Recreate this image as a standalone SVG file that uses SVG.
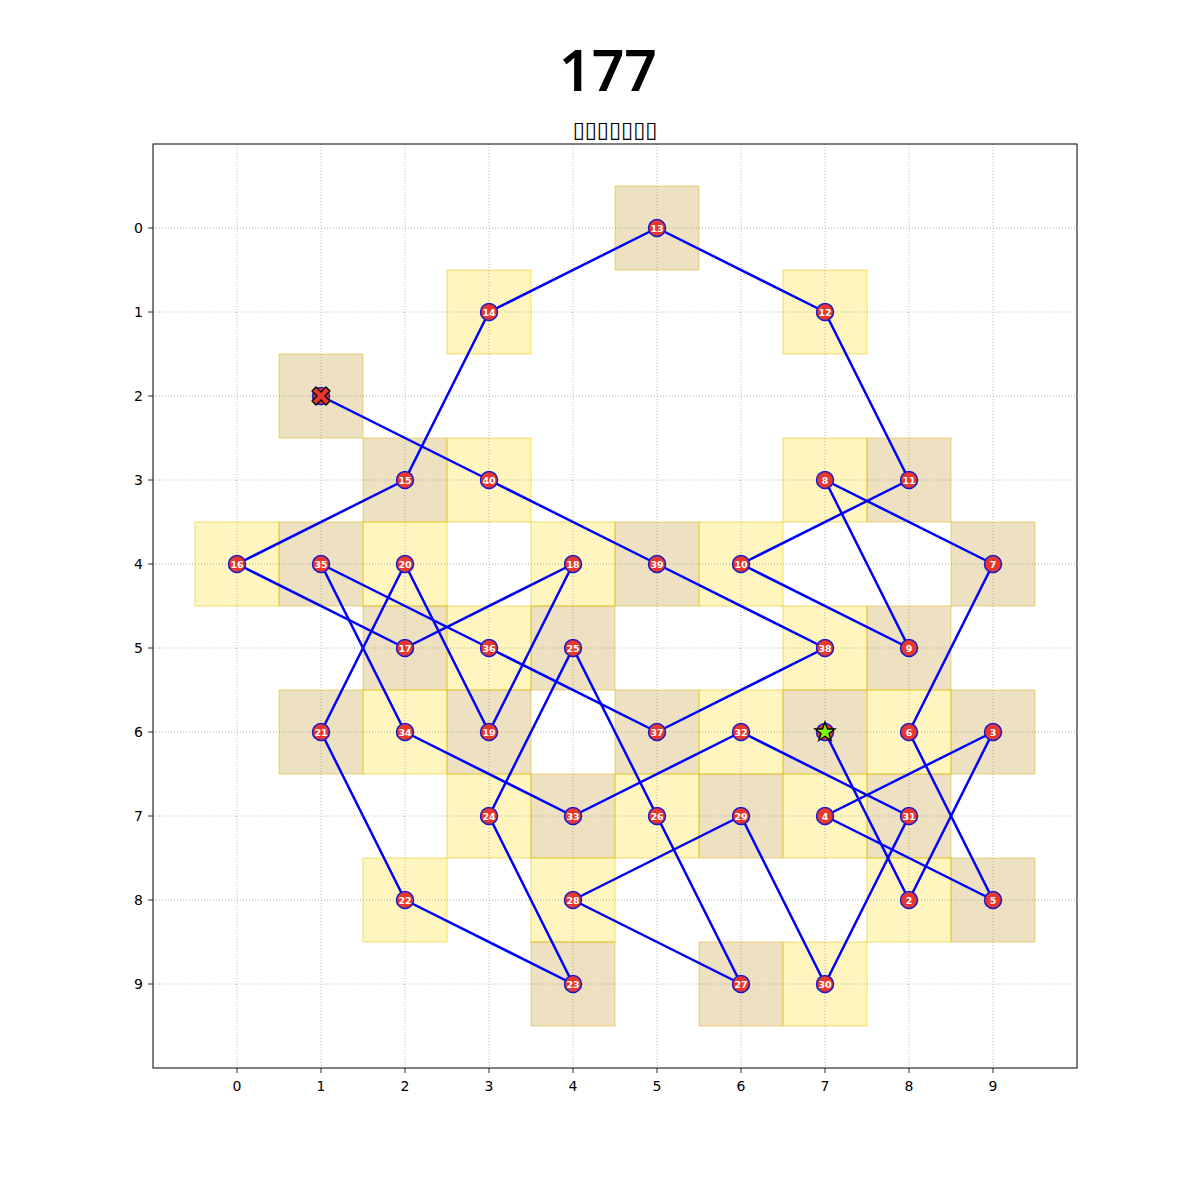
<svg xmlns="http://www.w3.org/2000/svg" width="1200" height="1200" viewBox="0 0 1200 1200">
<style>
.bg{fill:#ffffff}
.cy{fill:#ffd700;fill-opacity:0.25;stroke:#e6c200;stroke-opacity:0.35;stroke-width:1.5}
.ct{fill:#b8860b;fill-opacity:0.25;stroke:#d8b000;stroke-opacity:0.3;stroke-width:1.5}
.grid line{stroke:#a0a0a0;stroke-width:0.8;stroke-dasharray:1,2}
.frame{fill:none;stroke:#000;stroke-width:1}
.tick{stroke:#000;stroke-width:0.8}
.tl{font-family:"DejaVu Sans",sans-serif;font-size:14px;fill:#000}
.edges line{stroke:#0000ff;stroke-width:2.5;stroke-linecap:round}
.nd circle{fill:#e8372c;stroke:#1a1acc;stroke-width:1.5}
.nd text{font-family:"DejaVu Sans",sans-serif;font-weight:bold;font-size:9.5px;fill:#fff;text-anchor:middle}
</style>
<rect class="bg" x="0" y="0" width="1200" height="1200"/>
<text x="608" y="91" font-family="Noto Sans, sans-serif" font-weight="600" font-size="57" text-anchor="middle" fill="#000">177</text>
<text x="615" y="137" font-family="DejaVu Sans, sans-serif" font-size="22" text-anchor="middle" fill="#000">▯▯▯▯▯▯▯</text>
<g id="cells">
<rect class="ct" x="615" y="186" width="84" height="84"/>
<rect class="cy" x="447" y="270" width="84" height="84"/>
<rect class="cy" x="783" y="270" width="84" height="84"/>
<rect class="ct" x="279" y="354" width="84" height="84"/>
<rect class="ct" x="363" y="438" width="84" height="84"/>
<rect class="cy" x="447" y="438" width="84" height="84"/>
<rect class="cy" x="783" y="438" width="84" height="84"/>
<rect class="ct" x="867" y="438" width="84" height="84"/>
<rect class="cy" x="195" y="522" width="84" height="84"/>
<rect class="ct" x="279" y="522" width="84" height="84"/>
<rect class="cy" x="363" y="522" width="84" height="84"/>
<rect class="cy" x="531" y="522" width="84" height="84"/>
<rect class="ct" x="615" y="522" width="84" height="84"/>
<rect class="cy" x="699" y="522" width="84" height="84"/>
<rect class="ct" x="951" y="522" width="84" height="84"/>
<rect class="ct" x="363" y="606" width="84" height="84"/>
<rect class="cy" x="447" y="606" width="84" height="84"/>
<rect class="ct" x="531" y="606" width="84" height="84"/>
<rect class="cy" x="783" y="606" width="84" height="84"/>
<rect class="ct" x="867" y="606" width="84" height="84"/>
<rect class="ct" x="279" y="690" width="84" height="84"/>
<rect class="cy" x="363" y="690" width="84" height="84"/>
<rect class="ct" x="447" y="690" width="84" height="84"/>
<rect class="ct" x="615" y="690" width="84" height="84"/>
<rect class="cy" x="699" y="690" width="84" height="84"/>
<rect class="ct" x="783" y="690" width="84" height="84"/>
<rect class="cy" x="867" y="690" width="84" height="84"/>
<rect class="ct" x="951" y="690" width="84" height="84"/>
<rect class="cy" x="447" y="774" width="84" height="84"/>
<rect class="ct" x="531" y="774" width="84" height="84"/>
<rect class="cy" x="615" y="774" width="84" height="84"/>
<rect class="ct" x="699" y="774" width="84" height="84"/>
<rect class="cy" x="783" y="774" width="84" height="84"/>
<rect class="ct" x="867" y="774" width="84" height="84"/>
<rect class="cy" x="363" y="858" width="84" height="84"/>
<rect class="cy" x="531" y="858" width="84" height="84"/>
<rect class="cy" x="867" y="858" width="84" height="84"/>
<rect class="ct" x="951" y="858" width="84" height="84"/>
<rect class="ct" x="531" y="942" width="84" height="84"/>
<rect class="ct" x="699" y="942" width="84" height="84"/>
<rect class="cy" x="783" y="942" width="84" height="84"/>
</g>
<g class="grid">
<line x1="237" y1="144" x2="237" y2="1068"/><line x1="321" y1="144" x2="321" y2="1068"/><line x1="405" y1="144" x2="405" y2="1068"/><line x1="489" y1="144" x2="489" y2="1068"/><line x1="573" y1="144" x2="573" y2="1068"/><line x1="657" y1="144" x2="657" y2="1068"/><line x1="741" y1="144" x2="741" y2="1068"/><line x1="825" y1="144" x2="825" y2="1068"/><line x1="909" y1="144" x2="909" y2="1068"/><line x1="993" y1="144" x2="993" y2="1068"/>
<line x1="153" y1="228" x2="1077" y2="228"/><line x1="153" y1="312" x2="1077" y2="312"/><line x1="153" y1="396" x2="1077" y2="396"/><line x1="153" y1="480" x2="1077" y2="480"/><line x1="153" y1="564" x2="1077" y2="564"/><line x1="153" y1="648" x2="1077" y2="648"/><line x1="153" y1="732" x2="1077" y2="732"/><line x1="153" y1="816" x2="1077" y2="816"/><line x1="153" y1="900" x2="1077" y2="900"/><line x1="153" y1="984" x2="1077" y2="984"/>
</g>
<rect class="frame" x="153" y="144" width="924" height="924"/>
<g id="ticks">
<g class="tick">
<line x1="237" y1="1068" x2="237" y2="1073"/><line x1="321" y1="1068" x2="321" y2="1073"/><line x1="405" y1="1068" x2="405" y2="1073"/><line x1="489" y1="1068" x2="489" y2="1073"/><line x1="573" y1="1068" x2="573" y2="1073"/><line x1="657" y1="1068" x2="657" y2="1073"/><line x1="741" y1="1068" x2="741" y2="1073"/><line x1="825" y1="1068" x2="825" y2="1073"/><line x1="909" y1="1068" x2="909" y2="1073"/><line x1="993" y1="1068" x2="993" y2="1073"/>
<line x1="148" y1="228" x2="153" y2="228"/><line x1="148" y1="312" x2="153" y2="312"/><line x1="148" y1="396" x2="153" y2="396"/><line x1="148" y1="480" x2="153" y2="480"/><line x1="148" y1="564" x2="153" y2="564"/><line x1="148" y1="648" x2="153" y2="648"/><line x1="148" y1="732" x2="153" y2="732"/><line x1="148" y1="816" x2="153" y2="816"/><line x1="148" y1="900" x2="153" y2="900"/><line x1="148" y1="984" x2="153" y2="984"/>
</g>
<g class="tl" text-anchor="middle">
<text x="237" y="1091">0</text><text x="321" y="1091">1</text><text x="405" y="1091">2</text><text x="489" y="1091">3</text><text x="573" y="1091">4</text><text x="657" y="1091">5</text><text x="741" y="1091">6</text><text x="825" y="1091">7</text><text x="909" y="1091">8</text><text x="993" y="1091">9</text>
</g>
<g class="tl" text-anchor="end">
<text x="143" y="233">0</text><text x="143" y="317">1</text><text x="143" y="401">2</text><text x="143" y="485">3</text><text x="143" y="569">4</text><text x="143" y="653">5</text><text x="143" y="737">6</text><text x="143" y="821">7</text><text x="143" y="905">8</text><text x="143" y="989">9</text>
</g>
</g>
<g id="connectors" class="edges">
<line x1="825" y1="732" x2="909" y2="900"/>
<line x1="909" y1="900" x2="993" y2="732"/>
<line x1="993" y1="732" x2="825" y2="816"/>
<line x1="825" y1="816" x2="993" y2="900"/>
<line x1="993" y1="900" x2="909" y2="732"/>
<line x1="909" y1="732" x2="993" y2="564"/>
<line x1="993" y1="564" x2="825" y2="480"/>
<line x1="825" y1="480" x2="909" y2="648"/>
<line x1="909" y1="648" x2="741" y2="564"/>
<line x1="741" y1="564" x2="909" y2="480"/>
<line x1="909" y1="480" x2="825" y2="312"/>
<line x1="825" y1="312" x2="657" y2="228"/>
<line x1="657" y1="228" x2="489" y2="312"/>
<line x1="489" y1="312" x2="405" y2="480"/>
<line x1="405" y1="480" x2="237" y2="564"/>
<line x1="237" y1="564" x2="405" y2="648"/>
<line x1="405" y1="648" x2="573" y2="564"/>
<line x1="573" y1="564" x2="489" y2="732"/>
<line x1="489" y1="732" x2="405" y2="564"/>
<line x1="405" y1="564" x2="321" y2="732"/>
<line x1="321" y1="732" x2="405" y2="900"/>
<line x1="405" y1="900" x2="573" y2="984"/>
<line x1="573" y1="984" x2="489" y2="816"/>
<line x1="489" y1="816" x2="573" y2="648"/>
<line x1="573" y1="648" x2="657" y2="816"/>
<line x1="657" y1="816" x2="741" y2="984"/>
<line x1="741" y1="984" x2="573" y2="900"/>
<line x1="573" y1="900" x2="741" y2="816"/>
<line x1="741" y1="816" x2="825" y2="984"/>
<line x1="825" y1="984" x2="909" y2="816"/>
<line x1="909" y1="816" x2="741" y2="732"/>
<line x1="741" y1="732" x2="573" y2="816"/>
<line x1="573" y1="816" x2="405" y2="732"/>
<line x1="405" y1="732" x2="321" y2="564"/>
<line x1="321" y1="564" x2="489" y2="648"/>
<line x1="489" y1="648" x2="657" y2="732"/>
<line x1="657" y1="732" x2="825" y2="648"/>
<line x1="825" y1="648" x2="657" y2="564"/>
<line x1="657" y1="564" x2="489" y2="480"/>
<line x1="489" y1="480" x2="321" y2="396"/>
</g>
<g id="nodes" class="nd">
<g id="n1"><circle cx="825" cy="732" r="8.5"/></g>
<g id="n2"><circle cx="909" cy="900" r="8.5"/><text x="909" y="903.5">2</text></g>
<g id="n3"><circle cx="993" cy="732" r="8.5"/><text x="993" y="735.5">3</text></g>
<g id="n4"><circle cx="825" cy="816" r="8.5"/><text x="825" y="819.5">4</text></g>
<g id="n5"><circle cx="993" cy="900" r="8.5"/><text x="993" y="903.5">5</text></g>
<g id="n6"><circle cx="909" cy="732" r="8.5"/><text x="909" y="735.5">6</text></g>
<g id="n7"><circle cx="993" cy="564" r="8.5"/><text x="993" y="567.5">7</text></g>
<g id="n8"><circle cx="825" cy="480" r="8.5"/><text x="825" y="483.5">8</text></g>
<g id="n9"><circle cx="909" cy="648" r="8.5"/><text x="909" y="651.5">9</text></g>
<g id="n10"><circle cx="741" cy="564" r="8.5"/><text x="741" y="567.5">10</text></g>
<g id="n11"><circle cx="909" cy="480" r="8.5"/><text x="909" y="483.5">11</text></g>
<g id="n12"><circle cx="825" cy="312" r="8.5"/><text x="825" y="315.5">12</text></g>
<g id="n13"><circle cx="657" cy="228" r="8.5"/><text x="657" y="231.5">13</text></g>
<g id="n14"><circle cx="489" cy="312" r="8.5"/><text x="489" y="315.5">14</text></g>
<g id="n15"><circle cx="405" cy="480" r="8.5"/><text x="405" y="483.5">15</text></g>
<g id="n16"><circle cx="237" cy="564" r="8.5"/><text x="237" y="567.5">16</text></g>
<g id="n17"><circle cx="405" cy="648" r="8.5"/><text x="405" y="651.5">17</text></g>
<g id="n18"><circle cx="573" cy="564" r="8.5"/><text x="573" y="567.5">18</text></g>
<g id="n19"><circle cx="489" cy="732" r="8.5"/><text x="489" y="735.5">19</text></g>
<g id="n20"><circle cx="405" cy="564" r="8.5"/><text x="405" y="567.5">20</text></g>
<g id="n21"><circle cx="321" cy="732" r="8.5"/><text x="321" y="735.5">21</text></g>
<g id="n22"><circle cx="405" cy="900" r="8.5"/><text x="405" y="903.5">22</text></g>
<g id="n23"><circle cx="573" cy="984" r="8.5"/><text x="573" y="987.5">23</text></g>
<g id="n24"><circle cx="489" cy="816" r="8.5"/><text x="489" y="819.5">24</text></g>
<g id="n25"><circle cx="573" cy="648" r="8.5"/><text x="573" y="651.5">25</text></g>
<g id="n26"><circle cx="657" cy="816" r="8.5"/><text x="657" y="819.5">26</text></g>
<g id="n27"><circle cx="741" cy="984" r="8.5"/><text x="741" y="987.5">27</text></g>
<g id="n28"><circle cx="573" cy="900" r="8.5"/><text x="573" y="903.5">28</text></g>
<g id="n29"><circle cx="741" cy="816" r="8.5"/><text x="741" y="819.5">29</text></g>
<g id="n30"><circle cx="825" cy="984" r="8.5"/><text x="825" y="987.5">30</text></g>
<g id="n31"><circle cx="909" cy="816" r="8.5"/><text x="909" y="819.5">31</text></g>
<g id="n32"><circle cx="741" cy="732" r="8.5"/><text x="741" y="735.5">32</text></g>
<g id="n33"><circle cx="573" cy="816" r="8.5"/><text x="573" y="819.5">33</text></g>
<g id="n34"><circle cx="405" cy="732" r="8.5"/><text x="405" y="735.5">34</text></g>
<g id="n35"><circle cx="321" cy="564" r="8.5"/><text x="321" y="567.5">35</text></g>
<g id="n36"><circle cx="489" cy="648" r="8.5"/><text x="489" y="651.5">36</text></g>
<g id="n37"><circle cx="657" cy="732" r="8.5"/><text x="657" y="735.5">37</text></g>
<g id="n38"><circle cx="825" cy="648" r="8.5"/><text x="825" y="651.5">38</text></g>
<g id="n39"><circle cx="657" cy="564" r="8.5"/><text x="657" y="567.5">39</text></g>
<g id="n40"><circle cx="489" cy="480" r="8.5"/><text x="489" y="483.5">40</text></g>
<g id="n41"><circle cx="321" cy="396" r="8.5"/></g>
</g>
<g id="markers">
<polygon points="825,722 827.5,729 835,729 829,733.5 831.2,740.5 825,736.3 818.8,740.5 821,733.5 815,729 822.5,729" fill="#7cfc00" stroke="#000" stroke-width="1.3" stroke-linejoin="miter"/>
<polygon points="316,387 321,392 326,387 330,391 325,396 330,401 326,405 321,400 316,405 312,401 317,396 312,391" fill="#e8372c" stroke="#000" stroke-width="1.3" stroke-linejoin="round"/>
</g>
</svg>
